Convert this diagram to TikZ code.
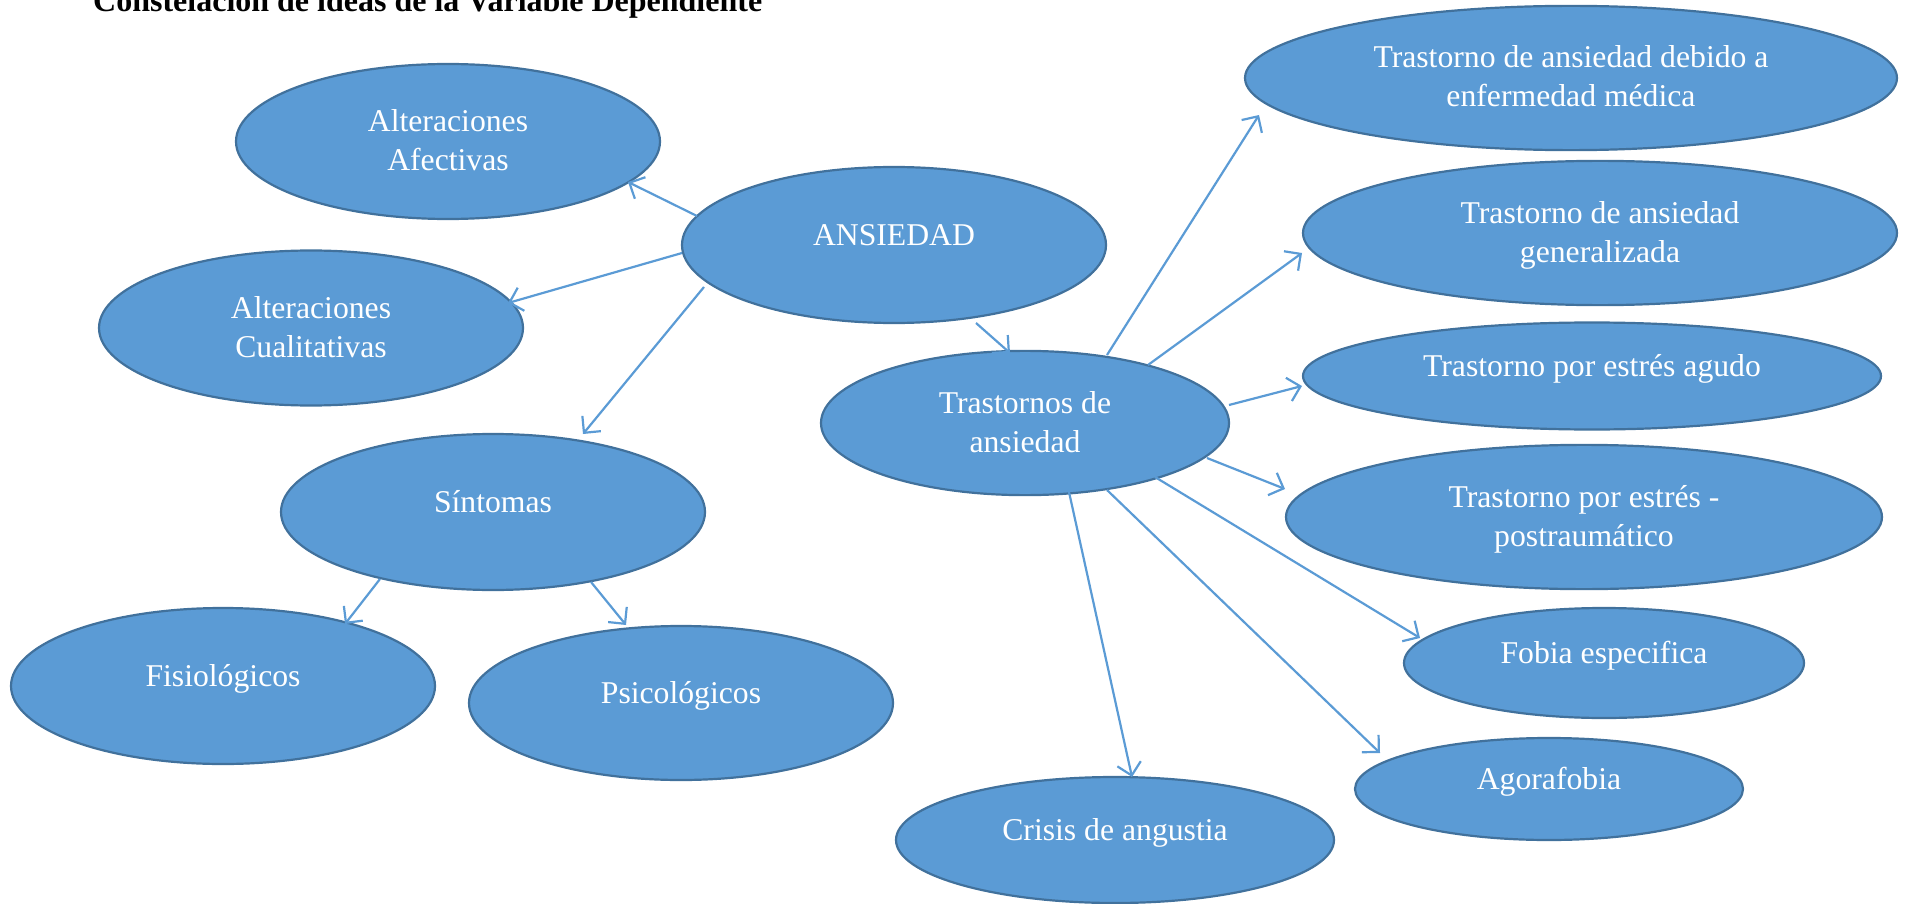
\documentclass[tikz,border=0pt]{standalone}
\usepackage{fontspec}
\setmainfont{Liberation Serif}
\usetikzlibrary{shapes.geometric,arrows.meta}
\definecolor{bubblefill}{HTML}{5B9BD5}
\definecolor{bubbleedge}{HTML}{41719C}
\definecolor{linkblue}{HTML}{5B9BD5}
\begin{document}
\begin{tikzpicture}[x=1pt,y=-1pt,
  bubble/.style n args={2}{ellipse, draw=bubbleedge, fill=bubblefill, line width=2.2pt,
     minimum width=#1pt, minimum height=#2pt, inner sep=0pt, outer sep=0pt,
     text=white, align=center, font=\fontsize{31.7}{39}\selectfont,
     text height=22pt, text depth=22pt},
  twoline/.style={text height=80pt, text depth=22pt},
  link/.style={draw=linkblue, line width=2.2pt, -{Straight Barb[length=12pt,width=24pt]}}
]
\useasboundingbox (0,0) rectangle (1906,904);

% heading
\node[anchor=base west, inner sep=0pt, font=\bfseries\fontsize{32}{39}\selectfont]
  (title) at (93,12) {Constelación de ideas de la Variable Dependiente};

% left cluster
\node[bubble={424}{155}, twoline] (afe) at (448,141.5) {Alteraciones\\Afectivas};
\node[bubble={424}{156}] (ans) at (894,245) {ANSIEDAD};
\node[bubble={424}{155}, twoline] (cua) at (311,328) {Alteraciones\\Cualitativas};
\node[bubble={424}{156}] (sin) at (493,512) {Síntomas};
\node[bubble={424}{156}] (fis) at (223,686) {Fisiológicos};
\node[bubble={424}{154}] (psi) at (681,703) {Psicológicos};

% disorders
\node[bubble={408}{138}, twoline] (tra) at (1025,423) {Trastornos de\\ansiedad};
\node[bubble={438}{126}] (cri) at (1115,840) {Crisis de angustia};
\node[bubble={652}{140}, twoline] (deb) at (1571,78) {Trastorno de ansiedad debido a\\enfermedad médica};
\node[bubble={594}{142}, twoline] (gen) at (1600,233) {Trastorno de ansiedad\\generalizada};
\node[bubble={578}{107}] (agu) at (1592,376) {Trastorno por estrés agudo};
\node[bubble={596}{144}, twoline] (pos) at (1584,517) {Trastorno por estrés -\\postraumático};
\node[bubble={400}{110}] (fob) at (1604,663) {Fobia especifica};
\node[bubble={388}{102}] (ago) at (1549,789) {Agorafobia};

% connectors
\draw[link] ([shift={(-197,-29)}]ans.center) -- ([shift={(180,40.5)}]afe.center);
\draw[link] ([shift={(-212,8)}]ans.center) -- ([shift={(197,-25)}]cua.center);
\draw[link] ([shift={(-190,42)}]ans.center) -- ([shift={(90,-78)}]sin.center);
\draw[link] ([shift={(82,78)}]ans.center) -- ([shift={(-15,-70)}]tra.center);
\draw[link] ([shift={(-113,67)}]sin.center) -- ([shift={(122,-62)}]fis.center);
\draw[link] ([shift={(98,70)}]sin.center) -- ([shift={(-55,-78)}]psi.center);
\draw[link] ([shift={(82,-68)}]tra.center) -- ([shift={(-312,37)}]deb.center);
\draw[link] ([shift={(123,-58)}]tra.center) -- ([shift={(-298,20)}]gen.center);
\draw[link] ([shift={(204,-18)}]tra.center) -- ([shift={(-290,10)}]agu.center);
\draw[link] ([shift={(182,35)}]tra.center) -- ([shift={(-299,-28)}]pos.center);
\draw[link] ([shift={(130,54)}]tra.center) -- ([shift={(-184,-25)}]fob.center);
\draw[link] ([shift={(82,67)}]tra.center) -- ([shift={(-169,-36)}]ago.center);
\draw[link] ([shift={(44,69)}]tra.center) -- ([shift={(17,-63)}]cri.center);
\end{tikzpicture}
\end{document}
